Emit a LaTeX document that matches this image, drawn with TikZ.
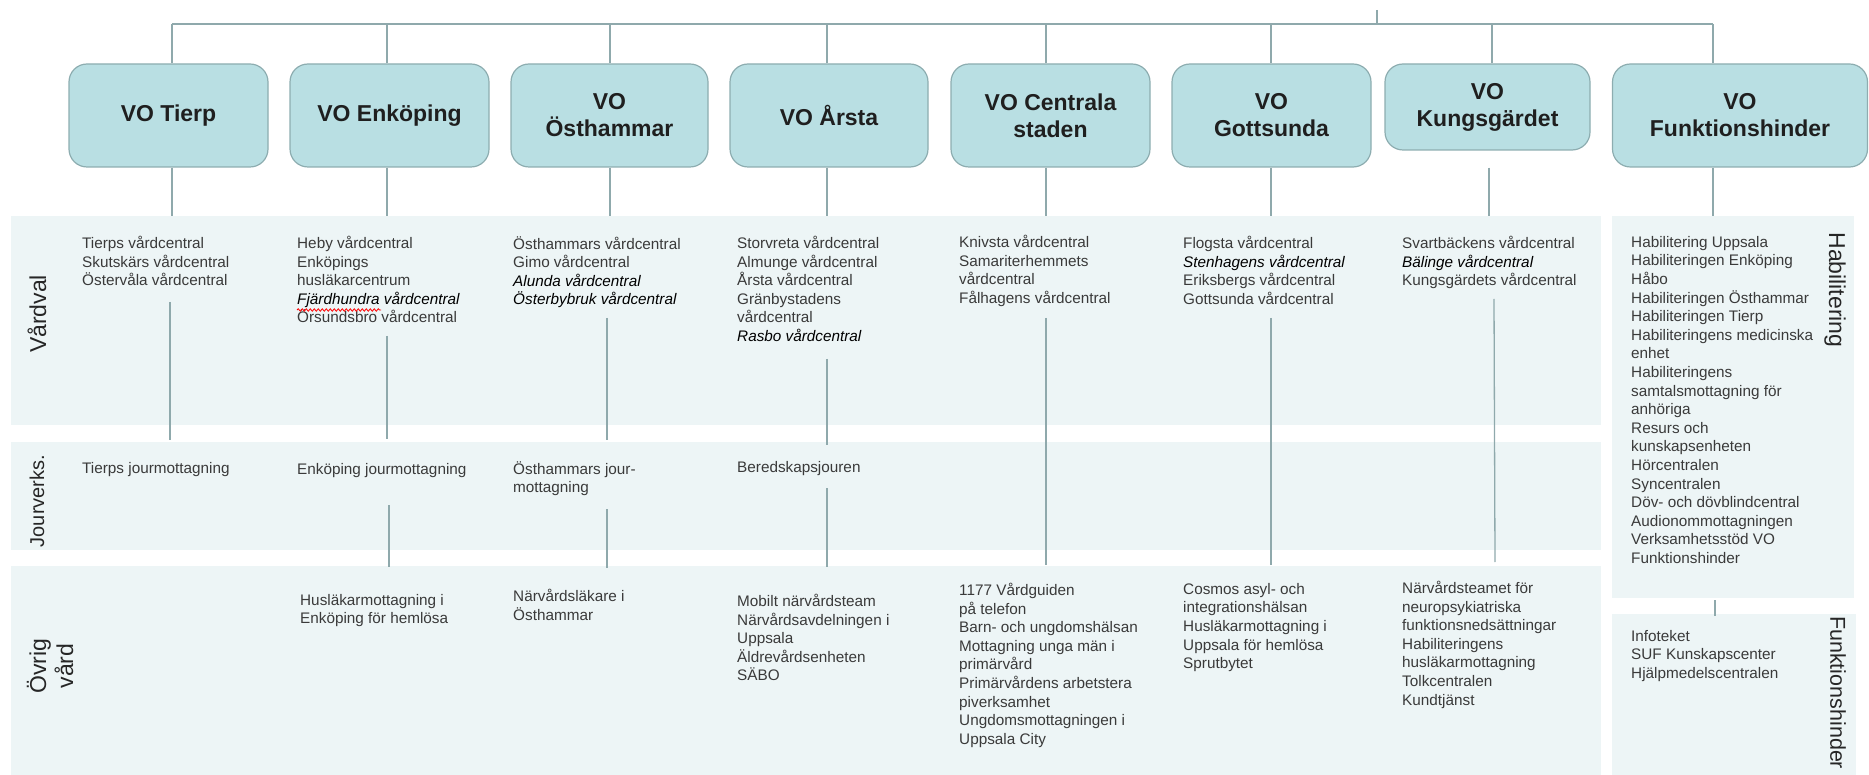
\documentclass[tikz,border=0pt]{standalone}
\usepackage{fontspec}
\setmainfont{Liberation Sans}
\usetikzlibrary{decorations.pathmorphing}
\definecolor{boxfill}{HTML}{B9DFE3}
\definecolor{boxline}{HTML}{8DADB0}
\definecolor{connc}{HTML}{8FA9AC}
\definecolor{bandc}{HTML}{EDF5F6}
\definecolor{txtc}{HTML}{3A3A3A}
\newcommand{\iv}[1]{{\itshape\color{black}#1}}
\begin{document}
\begin{tikzpicture}[x=1pt,y=-1pt,
  vobox/.style={draw=boxline, fill=boxfill, rounded corners=18pt, line width=1.2pt,
    font=\fontsize{23}{27}\selectfont\bfseries, align=center, text=black!88, inner sep=0pt},
  bandbox/.style={fill=bandc, draw=none, anchor=north west, inner sep=0pt, outer sep=0pt},
  lst/.style={anchor=north west, align=left, inner sep=0pt, text=txtc,
    font=\fontsize{15.3}{18.6}\selectfont, execute at begin node=\strut},
  conn/.style={draw=connc, line width=1.3pt},
  rowlab/.style={rotate=90, align=center, inner sep=0pt, text=black!85,
    font=\fontsize{23}{27}\selectfont},
  sidelab/.style={rotate=-90, inner sep=0pt, text=black!85, font=\fontsize{23}{27}\selectfont}
]
\useasboundingbox (0,0) rectangle (1869,775);
% bands
\node[bandbox, minimum width=1590pt, minimum height=209pt] (vband) at (11,216) {};
\node[bandbox, minimum width=1590pt, minimum height=108pt] (jband) at (11,442) {};
\node[bandbox, minimum width=1590pt, minimum height=209pt] (oband) at (11,566) {};
\node[bandbox, minimum width=242pt, minimum height=382pt] (hband) at (1612,216) {};
\node[bandbox, minimum width=244pt, minimum height=161pt] (fband) at (1612,614) {};
% row labels
\node[rowlab] (lv) at (37,314) {Vårdval};
\node[rowlab, font=\fontsize{20}{24}\selectfont] (lj) at (37,501) {Jourverks.};
\node[rowlab] (lo) at (50,666) {Övrig\\vård};
\node[sidelab] (lh) at (1835,290) {Habilitering};
\node[sidelab, anchor=west, font=\fontsize{21.5}{26}\selectfont] (lf) at (1838,616) {Funktionshinder};
% boxes
\node[vobox, minimum width=199pt, minimum height=103pt] (tierp) at (168.5,115.5) {VO Tierp};
\node[vobox, minimum width=199pt, minimum height=103pt] (enk) at (389.5,115.5) {VO Enköping};
\node[vobox, minimum width=197pt, minimum height=103pt] (ost) at (609.5,115.5) {VO\\Östhammar};
\node[vobox, minimum width=198pt, minimum height=103pt] (arsta) at (829,115.5) {VO Årsta};
\node[vobox, minimum width=199pt, minimum height=103pt] (cent) at (1050.5,115.5) {VO Centrala\\staden};
\node[vobox, minimum width=199pt, minimum height=103pt] (gott) at (1271.5,115.5) {VO\\Gottsunda};
\node[vobox, minimum width=205pt, minimum height=86pt] (kung) at (1487.5,107) {VO\\Kungsgärdet};
\node[vobox, minimum width=255pt, minimum height=103pt] (funk) at (1740,115.5) {VO\\Funktionshinder};
% top bus
\coordinate (root) at (1377,10);
\coordinate (bus) at (1377,24);
\draw[conn] (root) -- (bus);
\draw[conn] ([xshift=3.5pt]tierp.north |- bus) -- ([xshift=-27pt]funk.north |- bus);
\draw[conn] ([xshift=3.5pt]tierp.north) -- ([xshift=3.5pt]tierp.north |- bus);
\draw[conn] ([xshift=-2.5pt]enk.north) -- ([xshift=-2.5pt]enk.north |- bus);
\draw[conn] ([xshift=0.5pt]ost.north) -- ([xshift=0.5pt]ost.north |- bus);
\draw[conn] ([xshift=-2pt]arsta.north) -- ([xshift=-2pt]arsta.north |- bus);
\draw[conn] ([xshift=-4.5pt]cent.north) -- ([xshift=-4.5pt]cent.north |- bus);
\draw[conn] ([xshift=-0.5pt]gott.north) -- ([xshift=-0.5pt]gott.north |- bus);
\draw[conn] ([xshift=4.5pt]kung.north) -- ([xshift=4.5pt]kung.north |- bus);
\draw[conn] ([xshift=-27pt]funk.north) -- ([xshift=-27pt]funk.north |- bus);
% down to bands
\draw[conn] ([xshift=3.5pt]tierp.south) -- ([xshift=3.5pt]tierp.south |- vband.north);
\draw[conn] ([xshift=-2.5pt]enk.south) -- ([xshift=-2.5pt]enk.south |- vband.north);
\draw[conn] ([xshift=0.5pt]ost.south) -- ([xshift=0.5pt]ost.south |- vband.north);
\draw[conn] ([xshift=-2pt]arsta.south) -- ([xshift=-2pt]arsta.south |- vband.north);
\draw[conn] ([xshift=-4.5pt]cent.south) -- ([xshift=-4.5pt]cent.south |- vband.north);
\draw[conn] ([xshift=-0.5pt]gott.south) -- ([xshift=-0.5pt]gott.south |- vband.north);
\draw[conn] ([xshift=1.5pt,yshift=-17pt]kung.south) -- ([xshift=1.5pt]kung.south |- vband.north);
\draw[conn] ([xshift=-27pt]funk.south) -- ([xshift=-27pt]funk.south |- hband.north);
% Vårdval texts
\node[lst] (v1) at (82,236) {Tierps vårdcentral\\Skutskärs vårdcentral\\Östervåla vårdcentral};
\node[lst] (v2) at (297,236) {Heby vårdcentral\\Enköpings\\husläkarcentrum\\\iv{Fjärdhundra vårdcentral}\\Örsundsbro vårdcentral};
\node[lst] (v3) at (513,236) {Östhammars vårdcentral\\Gimo vårdcentral\\\iv{Alunda vårdcentral}\\\iv{Österbybruk vårdcentral}};
\node[lst] (v4) at (737,236) {Storvreta vårdcentral\\Almunge vårdcentral\\Årsta vårdcentral\\Gränbystadens\\vårdcentral\\\iv{Rasbo vårdcentral}};
\node[lst] (v5) at (959,235) {Knivsta vårdcentral\\Samariterhemmets\\vårdcentral\\Fålhagens vårdcentral};
\node[lst] (v6) at (1183,236) {Flogsta vårdcentral\\\iv{Stenhagens vårdcentral}\\Eriksbergs vårdcentral\\Gottsunda vårdcentral};
\node[lst] (v7) at (1402,236) {Svartbäckens vårdcentral\\\iv{Bälinge vårdcentral}\\Kungsgärdets vårdcentral};
\node[lst] (h1) at (1631,236) {Habilitering Uppsala\\Habiliteringen Enköping\\Håbo\\Habiliteringen Östhammar\\Habiliteringen Tierp\\Habiliteringens medicinska\\enhet\\Habiliteringens\\samtalsmottagning för\\anhöriga\\Resurs och\\kunskapsenheten\\Hörcentralen\\Syncentralen\\Döv- och dövblindcentral\\Audionommottagningen\\Verksamhetsstöd VO\\Funktionshinder};
% spell-check squiggle
\coordinate (sq1) at (297,310);
\coordinate (sq2) at (381,310);
\draw[red, line width=0.8pt, decorate, decoration={snake, amplitude=1.2pt, segment length=4pt}] (sq1) -- (sq2);
% Jour texts
\node[lst] (j1) at (82,460) {Tierps jourmottagning};
\node[lst] (j2) at (297,461) {Enköping jourmottagning};
\node[lst] (j3) at (513,461) {Östhammars jour-\\mottagning};
\node[lst] (j4) at (737,459) {Beredskapsjouren};
% Övrig texts
\node[lst] (o2) at (300,594) {Husläkarmottagning i\\Enköping för hemlösa};
\node[lst] (o3) at (513,589) {Närvårdsläkare i\\Östhammar};
\node[lst] (o4) at (737,594) {Mobilt närvårdsteam\\Närvårdsavdelningen i\\Uppsala\\Äldrevårdsenheten\\SÄBO};
\node[lst] (o5) at (959,583) {1177 Vårdguiden\\på telefon\\Barn- och ungdomshälsan\\Mottagning unga män i\\primärvård\\Primärvårdens arbetstera\\piverksamhet\\Ungdomsmottagningen i\\Uppsala City};
\node[lst] (o6) at (1183,583) {Cosmos asyl- och\\integrationshälsan\\Husläkarmottagning i\\Uppsala för hemlösa\\Sprutbytet};
\node[lst] (o7) at (1402,581) {Närvårdsteamet för\\neuropsykiatriska\\funktionsnedsättningar\\Habiliteringens\\husläkarmottagning\\Tolkcentralen\\Kundtjänst};
\node[lst] (f1) at (1631,630) {Infoteket\\SUF Kunskapscenter\\Hjälpmedelscentralen};
% inner connectors
\coordinate (a1) at (170,302); \coordinate (a2) at (170,440);
\coordinate (b1) at (387,336); \coordinate (b2) at (387,439);
\coordinate (b3) at (389,505); \coordinate (b4) at (389,567);
\coordinate (c1) at (607,318); \coordinate (c2) at (607,440);
\coordinate (c3) at (607,509); \coordinate (c4) at (607,568);
\coordinate (d1) at (827,359); \coordinate (d2) at (827,445);
\coordinate (d3) at (827,488); \coordinate (d4) at (827,567);
\coordinate (e1) at (1046,318); \coordinate (e2) at (1046,565);
\coordinate (g1) at (1271,318); \coordinate (g2) at (1271,565);
\coordinate (k1) at (1494,299); \coordinate (k2) at (1495,562);
\coordinate (m1) at (1715,600); \coordinate (m2) at (1715,616);
\draw[conn] (a1) -- (a2);
\draw[conn] (b1) -- (b2);
\draw[conn] (b3) -- (b4);
\draw[conn] (c1) -- (c2);
\draw[conn] (c3) -- (c4);
\draw[conn] (d1) -- (d2);
\draw[conn] (d3) -- (d4);
\draw[conn] (e1) -- (e2);
\draw[conn] (g1) -- (g2);
\draw[conn] (k1) -- (k2);
\draw[conn] (m1) -- (m2);
\end{tikzpicture}
\end{document}
